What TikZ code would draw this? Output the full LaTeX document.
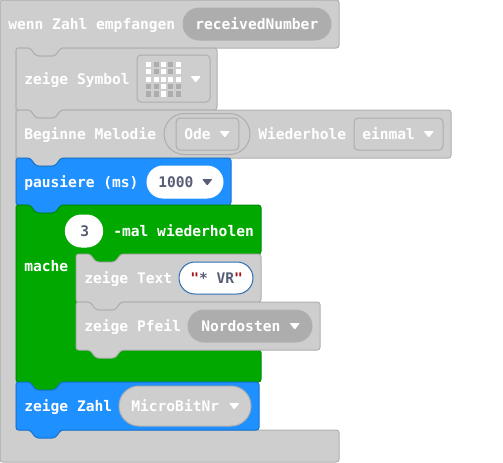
\documentclass[tikz,border=0pt]{standalone}
\usepackage{fontspec}
\setmonofont{DejaVu Sans Mono}
\usetikzlibrary{shapes.misc}
\definecolor{BlockGray}{RGB}{206,206,206}
\definecolor{EdgeGray}{RGB}{175,175,175}
\definecolor{FieldGray}{RGB}{173,173,173}
\definecolor{BlockBlue}{RGB}{30,144,255}
\definecolor{EdgeBlue}{RGB}{24,115,204}
\definecolor{BlockGreen}{RGB}{0,168,0}
\definecolor{EdgeGreen}{RGB}{0,140,0}
\definecolor{InkDark}{RGB}{87,94,117}
\definecolor{QuoteRed}{RGB}{163,21,21}
\definecolor{StringEdge}{RGB}{42,109,181}
\newcommand{\stmtblock}[5]{%
  \draw[#1] (#2,#3) -- ++(14,0) -- ++(6,8) -- ++(19,0) -- ++(6,-8) -- (#4,#3)
    -- (#4,#5) -- ({#2+45},#5) -- ++(-6,8) -- ++(-19,0) -- ++(-6,-8) -- (#2,#5) -- cycle;}
\newcommand{\ddarrow}[3]{%
  \fill[#3,rounded corners=0.7pt] (#1,#2) -- ++(10.5,0) -- ++(-5.25,6.5) -- cycle;}
\begin{document}
\begin{tikzpicture}[x=0.75pt,y=-0.75pt,
    graybk/.style={fill=BlockGray,draw=EdgeGray,line width=0.75pt,rounded corners=2pt},
    bluebk/.style={fill=BlockBlue,draw=EdgeBlue,line width=0.75pt,rounded corners=2pt},
    greenbk/.style={fill=BlockGreen,draw=EdgeGreen,line width=0.75pt,rounded corners=2pt},
    lbl/.style={anchor=base west,inner sep=0pt,text=white,font=\ttfamily\bfseries\fontsize{10.95}{12}\selectfont},
    pill/.style={rounded rectangle,draw=EdgeGray,fill=FieldGray,line width=0.75pt,inner sep=0pt,minimum height=24pt},
    field/.style={rectangle,rounded corners=3pt,draw=FieldGray,fill=BlockGray,line width=0.75pt,inner sep=0pt},
    led/.style={inner sep=0pt,minimum size=3.9pt,rectangle}
  ]
  \useasboundingbox (0,0) rectangle (503,462);
  % hat block
  \draw[graybk] (0,0) -- (339,0) -- (339,48) -- (61,48) -- ++(-6,8) -- ++(-19,0) -- ++(-6,-8)
    -- (16,48) -- (16,430) -- (339,430) -- (339,462) -- (0,462) -- cycle;
  \node[lbl] (hat) at (8,29) {wenn Zahl empfangen};
  \node[pill] (recv) at (257,24) [minimum width=111pt] {};
  \node[lbl] at (195,29) {receivedNumber};
  % symbol
  \stmtblock{graybk}{16}{48}{217}{110}
  \node[lbl] (sym) at (24,84) {zeige Symbol};
  \node[field,minimum width=54.75pt,minimum height=35.25pt] (symf) at (173.5,78.5) {};
  \foreach \r/\row in {0/{1,0,1,0,1},1/{1,0,1,0,1},2/{1,1,1,1,1},3/{0,0,1,0,0},4/{0,0,1,0,0}} {
    \foreach \v [count=\c from 0] in \row {
      \ifnum\v=1
        \node[led,fill=white] (l\r\c) at ({148.8+7.35*\c},{64.5+7.35*\r}) {};
      \else
        \node[led,fill=FieldGray] (l\r\c) at ({148.8+7.35*\c},{64.5+7.35*\r}) {};
      \fi
    }
  }
  \ddarrow{190.5}{76}{white}
  % melody
  \stmtblock{graybk}{16}{110}{451}{158}
  \node[lbl] (mel) at (24,139) {Beginne Melodie};
  \node[pill,fill=BlockGray,draw=FieldGray,minimum width=64.5pt,minimum height=30.75pt] (odep) at (207,134) {};
  \node[field,minimum width=47pt,minimum height=24pt] (odef) at (207.5,134) {};
  \node[lbl] at (184,139) {Ode};
  \ddarrow{219.5}{131}{white}
  \node[lbl] (rep) at (258,139) {Wiederhole};
  \node[field,minimum width=66.75pt,minimum height=24pt] (einf) at (398.5,134) {};
  \node[lbl] at (362,139) {einmal};
  \ddarrow{423.5}{131}{white}
  % pause
  \stmtblock{bluebk}{16}{158}{231}{205}
  \node[lbl] (pau) at (24,187) {pausiere (ms)};
  \node[pill,fill=white,draw=white,minimum width=57pt] (paup) at (185,182) {};
  \node[lbl,text=InkDark] at (158,187) {1000};
  \ddarrow{202}{179}{InkDark}
  % loop
  \draw[greenbk] (16,205) -- ++(14,0) -- ++(6,8) -- ++(19,0) -- ++(6,-8) -- (261,205) -- (261,254)
    -- (121,254) -- ++(-6,8) -- ++(-19,0) -- ++(-6,-8) -- (76,254) -- (76,350) -- (261,350)
    -- (261,382) -- (61,382) -- ++(-6,8) -- ++(-19,0) -- ++(-6,-8) -- (16,382) -- cycle;
  \node[pill,fill=white,draw=white,minimum width=28pt] (timesp) at (84,231) {};
  \node[lbl,text=InkDark] at (80,236) {3};
  \node[lbl] (rpt) at (113,236) {-mal wiederholen};
  \node[lbl] (mache) at (24,271) {mache};
  % text
  \stmtblock{graybk}{76}{254}{261}{302}
  \node[lbl] (txt) at (84,283) {zeige Text};
  \node[pill,fill=white,draw=StringEdge,minimum width=55.5pt] (txtp) at (216,278) {};
  \node[lbl,text=InkDark] at (190,283) {\textcolor{QuoteRed}{"}* VR\textcolor{QuoteRed}{"}};
  % arrow
  \stmtblock{graybk}{76}{302}{320}{350}
  \node[lbl] (arw) at (84,331) {zeige Pfeil};
  \node[pill,minimum width=93pt] (arwp) at (250,326) {};
  \node[lbl] at (201,331) {Nordosten};
  \ddarrow{289.5}{323}{white}
  % number
  \stmtblock{bluebk}{16}{382}{259}{430}
  \node[lbl] (num) at (24,411) {zeige Zahl};
  \node[pill,fill=BlockGray,minimum width=99pt,minimum height=30pt] (nump) at (185,406) {};
  \node[lbl] at (131,411) {MicroBitNr};
  \ddarrow{229}{403}{white}
\end{tikzpicture}
\end{document}
